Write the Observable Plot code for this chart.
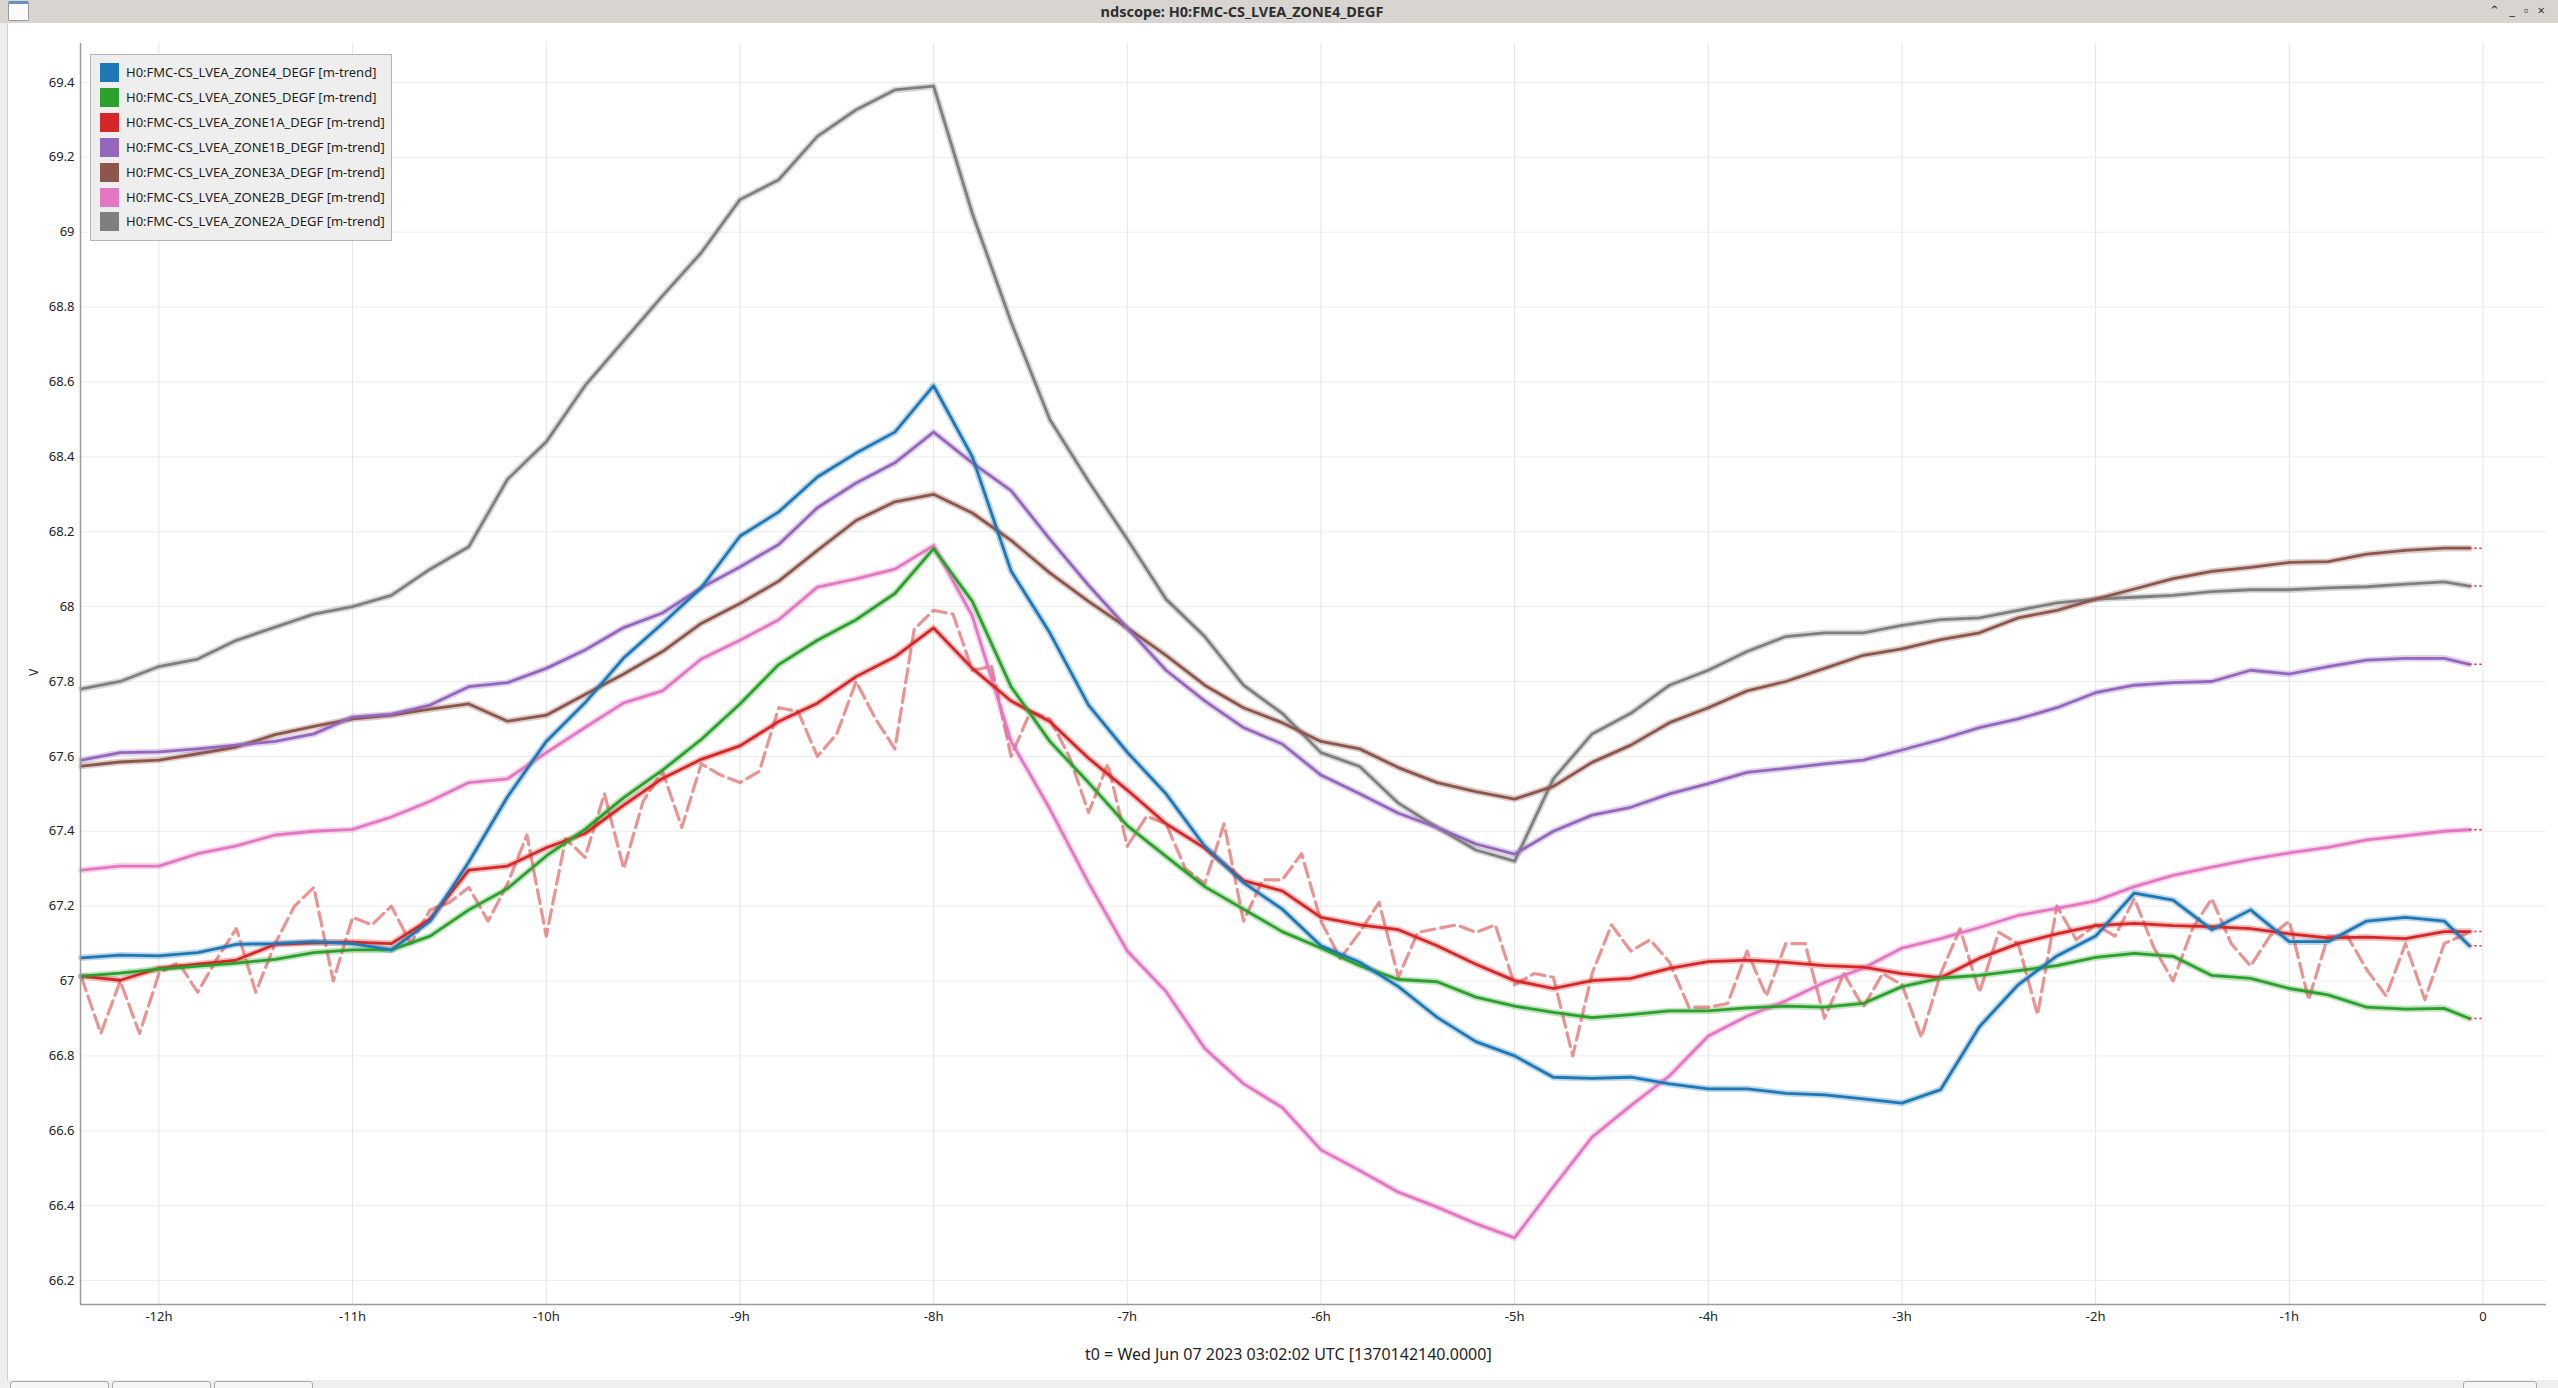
<!DOCTYPE html>
<html>
<head>
<meta charset="utf-8">
<script src="https://cdn.jsdelivr.net/npm/d3@7"></script>
<script src="https://cdn.jsdelivr.net/npm/@observablehq/plot@0.6"></script>
<style>
  html, body { margin: 0; padding: 0; }
  body { width: 2558px; height: 1388px; overflow: hidden; background: #ffffff; position: relative; font-family: "Noto Sans", "Open Sans", sans-serif; color: #222; }
  #titlebar { position: absolute; left: 0; top: 0; width: 2558px; height: 23px; background: #d8d5d1; }
  #titlebar .t { position: absolute; left: 0; width: 2484px; top: 1px; text-align: center; font-size: 14.5px; font-weight: bold; color: #2e2e2e; }
  #titlebar .icon { position: absolute; left: 8px; top: 1px; width: 19px; height: 16px; background: #fafafa; border: 1px solid #9a9a9a; border-top: 3px solid #6b8fc0; border-radius: 2px; }
  #titlebar .btns { position: absolute; right: 4px; top: 1px; font-size: 13px; color: #333; letter-spacing: 9px; }
  #leftstrip { position: absolute; left: 0; top: 23px; width: 7px; height: 1357px; background: #efefef; border-right: 1px solid #d0d0d0; }
  #chart { position: absolute; left: 0; top: 23px; }
  #legend { position: absolute; left: 90px; top: 54px; width: 300px; height: 185px; background: #eeeeee; border: 1px solid #b5b5b5; }
  #legend .row { position: absolute; left: 9px; height: 19px; }
  #legend .sw { position: absolute; left: 0; top: 0; width: 19px; height: 19px; }
  #legend .lb { position: absolute; left: 26px; top: 0; line-height: 19px; font-size: 13px; white-space: nowrap; color: #1e1e1e; }
  #ylabel { position: absolute; left: 30px; top: 664px; font-size: 12px; transform: rotate(-90deg); color: #222; }
  #caption { position: absolute; left: 1085px; top: 1343px; font-size: 16px; color: #1e1e1e; white-space: nowrap; }
  #bottombar { position: absolute; left: 0; top: 1380px; width: 2558px; height: 8px; background: #efefef; }
  #bottombar .b { position: absolute; top: 1px; height: 10px; border: 1px solid #a8a8a8; border-radius: 3px; background: #f6f6f6; }
</style>
</head>
<body>
<div id="titlebar"><div class="icon"></div><div class="t">ndscope: H0:FMC-CS_LVEA_ZONE4_DEGF</div><div class="btns">⌃_▫×</div></div>
<div id="leftstrip"></div>
<div id="chart"></div>
<div id="legend"></div>
<div id="ylabel">V</div>
<div id="caption">t0 = Wed Jun 07 2023 03:02:02 UTC [1370142140.0000]</div>
<div id="bottombar">
  <div class="b" style="left:10px;width:97px"></div>
  <div class="b" style="left:112px;width:97px"></div>
  <div class="b" style="left:214px;width:97px"></div>
  <div class="b" style="left:2463px;width:72px"></div>
</div>
<script>
// ---- data (hours relative to t0, values in V) ----
const hours = [-12.4, -12.2, -12.0, -11.8, -11.6, -11.4, -11.2, -11.0, -10.8, -10.6,
  -10.4, -10.2, -10.0, -9.8, -9.6, -9.4, -9.2, -9.0, -8.8, -8.6,
  -8.4, -8.2, -8.0, -7.8, -7.6, -7.4, -7.2, -7.0, -6.8, -6.6,
  -6.4, -6.2, -6.0, -5.8, -5.6, -5.4, -5.2, -5.0, -4.8, -4.6,
  -4.4, -4.2, -4.0, -3.8, -3.6, -3.4, -3.2, -3.0, -2.8, -2.6,
  -2.4, -2.2, -2.0, -1.8, -1.6, -1.4, -1.2, -1.0, -0.8, -0.6,
  -0.4, -0.2, -0.07];

const zone4 = [67.062, 67.069, 67.067, 67.076, 67.098, 67.100, 67.105, 67.100, 67.083, 67.160,
  67.318, 67.492, 67.640, 67.743, 67.863, 67.955, 68.050, 68.188, 68.253, 68.346,
  68.410, 68.466, 68.590, 68.400, 68.095, 67.930, 67.737, 67.611, 67.500, 67.360,
  67.263, 67.192, 67.094, 67.050, 66.985, 66.903, 66.838, 66.800, 66.743, 66.740,
  66.743, 66.725, 66.712, 66.712, 66.700, 66.696, 66.685, 66.674, 66.710, 66.878,
  66.990, 67.067, 67.120, 67.235, 67.216, 67.137, 67.190, 67.105, 67.105, 67.160,
  67.170, 67.160, 67.094];

const zone5 = [67.013, 67.021, 67.032, 67.040, 67.048, 67.058, 67.076, 67.083, 67.083, 67.120,
  67.190, 67.247, 67.334, 67.405, 67.490, 67.563, 67.645, 67.740, 67.845, 67.910,
  67.965, 68.035, 68.155, 68.014, 67.786, 67.640, 67.530, 67.415, 67.333, 67.252,
  67.192, 67.132, 67.088, 67.041, 67.004, 66.998, 66.957, 66.933, 66.916, 66.902,
  66.910, 66.920, 66.920, 66.928, 66.933, 66.930, 66.940, 66.985, 67.008, 67.015,
  67.028, 67.041, 67.063, 67.074, 67.066, 67.015, 67.007, 66.980, 66.963, 66.930,
  66.925, 66.927, 66.900];

const zone1a = [67.013, 67.002, 67.034, 67.045, 67.056, 67.098, 67.102, 67.104, 67.100, 67.165,
  67.296, 67.307, 67.356, 67.394, 67.470, 67.541, 67.592, 67.628, 67.693, 67.742,
  67.813, 67.866, 67.943, 67.835, 67.748, 67.693, 67.595, 67.510, 67.420, 67.355,
  67.268, 67.241, 67.170, 67.150, 67.137, 67.094, 67.045, 67.001, 66.980, 67.001,
  67.007, 67.034, 67.052, 67.056, 67.050, 67.041, 67.037, 67.020, 67.009, 67.061,
  67.100, 67.126, 67.148, 67.154, 67.148, 67.145, 67.140, 67.126, 67.115, 67.117,
  67.113, 67.132, 67.132];

const zone1b = [67.590, 67.610, 67.612, 67.620, 67.630, 67.640, 67.660, 67.705, 67.712, 67.737,
  67.786, 67.797, 67.835, 67.884, 67.944, 67.983, 68.050, 68.106, 68.166, 68.264,
  68.330, 68.384, 68.466, 68.384, 68.310, 68.180, 68.057, 67.943, 67.830, 67.748,
  67.677, 67.633, 67.550, 67.500, 67.448, 67.410, 67.366, 67.339, 67.400, 67.443,
  67.464, 67.500, 67.527, 67.557, 67.568, 67.580, 67.590, 67.617, 67.645, 67.677,
  67.700, 67.730, 67.770, 67.790, 67.797, 67.800, 67.830, 67.820, 67.840, 67.857,
  67.862, 67.862, 67.846];

const zone3a = [67.574, 67.585, 67.590, 67.607, 67.625, 67.658, 67.680, 67.700, 67.710, 67.726,
  67.740, 67.694, 67.710, 67.765, 67.820, 67.880, 67.955, 68.008, 68.068, 68.150,
  68.230, 68.280, 68.300, 68.250, 68.177, 68.090, 68.014, 67.943, 67.870, 67.790,
  67.730, 67.690, 67.640, 67.620, 67.570, 67.530, 67.506, 67.486, 67.520, 67.584,
  67.630, 67.690, 67.730, 67.775, 67.800, 67.835, 67.870, 67.887, 67.912, 67.930,
  67.970, 67.990, 68.020, 68.047, 68.075, 68.094, 68.105, 68.118, 68.120, 68.140,
  68.150, 68.156, 68.156];

const zone2b = [67.296, 67.307, 67.307, 67.340, 67.361, 67.390, 67.400, 67.405, 67.438, 67.480,
  67.530, 67.540, 67.610, 67.677, 67.743, 67.775, 67.860, 67.910, 67.965, 68.052,
  68.074, 68.100, 68.163, 67.975, 67.640, 67.460, 67.262, 67.080, 66.972, 66.820,
  66.726, 66.662, 66.549, 66.494, 66.436, 66.396, 66.352, 66.314, 66.450, 66.583,
  66.667, 66.747, 66.853, 66.906, 66.947, 66.996, 67.034, 67.088, 67.113, 67.143,
  67.175, 67.194, 67.214, 67.252, 67.282, 67.304, 67.325, 67.342, 67.357, 67.377,
  67.388, 67.400, 67.404];

const zone2a = [67.780, 67.800, 67.840, 67.860, 67.910, 67.945, 67.980, 68.000, 68.030, 68.100,
  68.160, 68.340, 68.440, 68.590, 68.710, 68.830, 68.945, 69.087, 69.140, 69.256,
  69.327, 69.380, 69.390, 69.050, 68.760, 68.500, 68.335, 68.180, 68.020, 67.920,
  67.790, 67.715, 67.610, 67.573, 67.475, 67.410, 67.350, 67.320, 67.540, 67.660,
  67.715, 67.790, 67.830, 67.880, 67.920, 67.930, 67.930, 67.950, 67.965, 67.970,
  67.990, 68.010, 68.020, 68.025, 68.030, 68.040, 68.045, 68.045, 68.050, 68.053,
  68.060, 68.066, 68.055];

// finer, noisier light trace of ZONE1A (dashed in the reference)
const rawHours = [-12.4, -12.3, -12.2, -12.1, -12.0, -11.9, -11.8, -11.7, -11.6, -11.5,
  -11.4, -11.3, -11.2, -11.1, -11.0, -10.9, -10.8, -10.7, -10.6, -10.5,
  -10.4, -10.3, -10.2, -10.1, -10.0, -9.9, -9.8, -9.7, -9.6, -9.5,
  -9.4, -9.3, -9.2, -9.1, -9.0, -8.9, -8.8, -8.7, -8.6, -8.5,
  -8.4, -8.3, -8.2, -8.1, -8.0, -7.9, -7.8, -7.7, -7.6, -7.5,
  -7.4, -7.3, -7.2, -7.1, -7.0, -6.9, -6.8, -6.7, -6.6, -6.5,
  -6.4, -6.3, -6.2, -6.1, -6.0, -5.9, -5.8, -5.7, -5.6, -5.5,
  -5.4, -5.3, -5.2, -5.1, -5.0, -4.9, -4.8, -4.7, -4.6, -4.5,
  -4.4, -4.3, -4.2, -4.1, -4.0, -3.9, -3.8, -3.7, -3.6, -3.5,
  -3.4, -3.3, -3.2, -3.1, -3.0, -2.9, -2.8, -2.7, -2.6, -2.5,
  -2.4, -2.3, -2.2, -2.1, -2.0, -1.9, -1.8, -1.7, -1.6, -1.5,
  -1.4, -1.3, -1.2, -1.1, -1.0, -0.9, -0.8, -0.7, -0.6, -0.5,
  -0.4, -0.3, -0.2, -0.07];
const zone1aRaw = [67.01, 66.86, 67.00, 66.86, 67.02, 67.05, 66.97, 67.06, 67.14, 66.97,
  67.10, 67.20, 67.25, 67.00, 67.17, 67.15, 67.20, 67.10, 67.19, 67.21,
  67.25, 67.16, 67.26, 67.39, 67.12, 67.38, 67.33, 67.50, 67.30, 67.48,
  67.56, 67.41, 67.58, 67.55, 67.53, 67.56, 67.73, 67.72, 67.60, 67.66,
  67.80, 67.70, 67.62, 67.94, 67.99, 67.98, 67.83, 67.84, 67.60, 67.72,
  67.70, 67.60, 67.45, 67.58, 67.36, 67.44, 67.42, 67.30, 67.26, 67.42,
  67.16, 67.27, 67.27, 67.34, 67.16, 67.06, 67.13, 67.21, 67.01, 67.13,
  67.14, 67.15, 67.13, 67.15, 66.99, 67.02, 67.01, 66.80, 67.02, 67.15,
  67.08, 67.11, 67.05, 66.93, 66.93, 66.94, 67.08, 66.96, 67.10, 67.10,
  66.90, 67.02, 66.93, 67.02, 66.99, 66.85, 67.02, 67.14, 66.97, 67.13,
  67.10, 66.91, 67.20, 67.11, 67.15, 67.12, 67.22, 67.09, 67.00, 67.14,
  67.22, 67.10, 67.04, 67.12, 67.16, 66.95, 67.12, 67.12, 67.03, 66.96,
  67.10, 66.95, 67.10, 67.13];

const channelNames = [
  "H0:FMC-CS_LVEA_ZONE4_DEGF [m-trend]",
  "H0:FMC-CS_LVEA_ZONE5_DEGF [m-trend]",
  "H0:FMC-CS_LVEA_ZONE1A_DEGF [m-trend]",
  "H0:FMC-CS_LVEA_ZONE1B_DEGF [m-trend]",
  "H0:FMC-CS_LVEA_ZONE3A_DEGF [m-trend]",
  "H0:FMC-CS_LVEA_ZONE2B_DEGF [m-trend]",
  "H0:FMC-CS_LVEA_ZONE2A_DEGF [m-trend]"
];
const channelColors = ["#1f77b4", "#2ca02c", "#d62728", "#9467bd", "#8c564b", "#e377c2", "#7f7f7f"];
const channelValues = [zone4, zone5, zone1a, zone1b, zone3a, zone2b, zone2a];

const xTicks = [-12, -11, -10, -9, -8, -7, -6, -5, -4, -3, -2, -1, 0];
const xTickLabels = ["-12h", "-11h", "-10h", "-9h", "-8h", "-7h", "-6h", "-5h", "-4h", "-3h", "-2h", "-1h", "0"];
const yTicks = [66.2, 66.4, 66.6, 66.8, 67, 67.2, 67.4, 67.6, 67.8, 68, 68.2, 68.4, 68.6, 68.8, 69, 69.2, 69.4];
const xDomain = [-12.405, 0.328];
const yDomain = [66.136, 69.504];
const t0 = 0;

// ---- build tables ----
const rows = [];
channelNames.forEach((name, k) => {
  channelValues[k].forEach((v, i) => rows.push({name, t: hours[i], v}));
});
const rawRows = rawHours.map((t, i) => ({name: channelNames[2], t, v: zone1aRaw[i]}));
const ends = channelNames.map((name, k) => ({name, t: hours[hours.length - 1], v: channelValues[k][channelValues[k].length - 1]}));
const drawOrder = channelNames.slice().reverse();
rows.sort((a, b) => drawOrder.indexOf(a.name) - drawOrder.indexOf(b.name) || a.t - b.t);

const labelOf = new Map(xTicks.map((t, i) => [t, xTickLabels[i]]));

const chart = Plot.plot({
  width: 2558,
  height: 1317,
  marginLeft: 80,
  marginRight: 12,
  marginTop: 20,
  marginBottom: 36,
  style: {fontFamily: "'Noto Sans', 'Open Sans', sans-serif", fontSize: "13px", color: "#222", background: "transparent", overflow: "visible"},
  x: {domain: xDomain, label: null},
  y: {domain: yDomain, label: null},
  color: {domain: channelNames, range: channelColors},
  marks: [
    Plot.gridX(xTicks, {stroke: "#e4e4e4", strokeOpacity: 1, strokeWidth: 1}),
    Plot.gridY(yTicks, {stroke: "#ececec", strokeOpacity: 1, strokeWidth: 1}),
    Plot.axisX(xTicks, {tickSize: 0, tickPadding: 7, tickFormat: d => labelOf.get(d), fill: "#222"}),
    Plot.axisY(yTicks, {tickSize: 0, tickPadding: 6, tickFormat: d => String(d), fill: "#222"}),
    Plot.line(rows, {x: "t", y: "v", z: "name", stroke: "name", strokeWidth: 6.5, strokeOpacity: 0.3}),
    Plot.line(rawRows, {x: "t", y: "v", stroke: "name", strokeWidth: 3.2, strokeOpacity: 0.5, strokeDasharray: "14,6"}),
    Plot.line(rows, {x: "t", y: "v", z: "name", stroke: "name", strokeWidth: 2.8}),
    Plot.link(ends, {x1: "t", y1: "v", x2: () => t0, y2: "v", stroke: "#e02020", strokeWidth: 1.5, strokeDasharray: "2,3"}),
    Plot.ruleX([xDomain[0]], {stroke: "#9a9a9a", strokeWidth: 1.5}),
    Plot.ruleY([yDomain[0]], {stroke: "#9a9a9a", strokeWidth: 1.5})
  ]
});
document.getElementById("chart").appendChild(chart);

// ---- legend ----
const legend = document.getElementById("legend");
channelNames.forEach((name, k) => {
  const row = document.createElement("div");
  row.className = "row";
  row.style.top = (8 + k * 24.9) + "px";
  const sw = document.createElement("div");
  sw.className = "sw";
  sw.style.background = channelColors[k];
  const lb = document.createElement("div");
  lb.className = "lb";
  lb.textContent = name;
  row.appendChild(sw);
  row.appendChild(lb);
  legend.appendChild(row);
});
</script>
</body>
</html>
